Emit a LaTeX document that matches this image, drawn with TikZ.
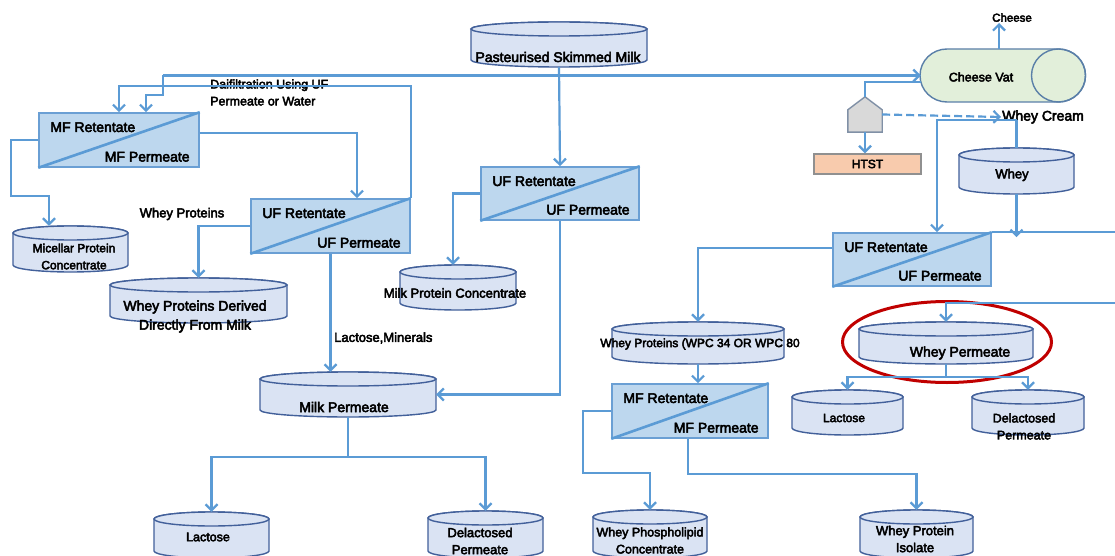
\documentclass[tikz,border=0pt]{standalone}
\usepackage{fontspec}
\newfontfamily\dfont{Liberation Sans}[FakeBold=3.5]
\usetikzlibrary{arrows.meta,shapes.geometric,calc}
\definecolor{lineblue}{HTML}{5B9BD5}
\definecolor{drumfill}{HTML}{DAE3F3}
\definecolor{drumedge}{HTML}{42609A}
\definecolor{boxfill}{HTML}{BDD7EE}
\definecolor{boxedge}{HTML}{6A9FD4}
\definecolor{vatfill}{HTML}{E2EFDA}
\definecolor{vatedge}{HTML}{5A7FA8}
\definecolor{sepfill}{HTML}{D9D9D9}
\definecolor{sepedge}{HTML}{8090A6}
\definecolor{htstfill}{HTML}{F8CBAD}
\definecolor{htstedge}{HTML}{909090}
\definecolor{hlred}{HTML}{C00000}
\tikzset{
  conn/.style={draw=lineblue, line width=2.2pt},
  arr/.style={conn, -{Straight Barb[length=6pt,width=12pt]}},
  dasharr/.style={arr, dash pattern=on 8pt off 4pt},
  drumstyle/.style={draw=drumedge, fill=drumfill, line width=1.4pt},
  membbox/.style={draw=boxedge, fill=boxfill, line width=1.6pt, inner sep=0pt},
  diag/.style={draw=lineblue, line width=2.6pt},
  txt/.style={font=\dfont\fontsize{#1}{17}\selectfont, inner sep=1pt, align=center, text=black},
  txt/.default=13
}
\newcommand{\drum}[5]{%
  \pgfmathsetmacro{\dcx}{(#2+#3)/2}%
  \pgfmathsetmacro{\drx}{(#3-#2)/2}%
  \pgfmathsetmacro{\dyt}{-(#4)-7}%
  \pgfmathsetmacro{\dyb}{-(#5)+7}%
  \filldraw[drumstyle] (#2,\dyt) -- (#2,\dyb) arc[start angle=180,end angle=360,x radius=\drx,y radius=7] -- (#3,\dyt) arc[start angle=0,end angle=180,x radius=\drx,y radius=7] -- cycle;
  \draw[drumstyle] (\dcx,\dyt) ellipse[x radius=\drx, y radius=7];
  \node[inner sep=0pt, minimum width={#3-#2}, minimum height={#5-#4}] (#1) at (\dcx,{-(#4+#5)/2}) {};
}
\newcommand{\memb}[7]{%
  \node[membbox, minimum width={#4-#2}, minimum height={#5-#3}] (#1) at ({(#2+#4)/2},{-(#3+#5)/2}) {};
  \draw[diag] (#1.south west) -- (#1.north east);
  \node[txt=14, anchor=west] (#1r) at ([shift={(11pt,-15pt)}]#1.north west) {#6};
  \node[txt=14, anchor=east] (#1p) at ([shift={(-9pt,11pt)}]#1.south east) {#7};
}
\begin{document}
\begin{tikzpicture}[x=1pt,y=1pt]
\useasboundingbox (0,0) rectangle (1115,-556);
\fill[white] (0,0) rectangle (1115,-556);

% drums
\drum{psm}{471}{647}{22}{67}
\node[txt=14] (psmt) at (558,-57) {Pasteurised Skimmed Milk};
\drum{mic}{13}{128}{226}{272}
\node[txt=12] (mict) at (74,-256.5) {Micellar Protein\\Concentrate};
\drum{wpd}{110}{287}{278}{323}
\node[txt=14, font=\dfont\fontsize{14}{19}\selectfont] (wpdt) at (195,-316.5) {Whey Proteins Derived\\Directly From Milk};
\drum{mpc}{400}{516}{265}{310}
\node[txt=13] (mpct) at (455,-293) {Milk Protein Concentrate};
\drum{mperm}{260}{436}{372}{417}
\node[txt=14] (mpermt) at (344,-407) {Milk Permeate};
\drum{lacL}{154}{269}{512}{558}
\node[txt=12.5] (lacLt) at (208,-537) {Lactose};
\drum{delL}{428}{543}{511}{558}
\node[txt=13] (delLt) at (480,-541) {Delactosed\\Permeate};
\drum{whey}{959}{1074}{148}{194}
\node[txt=13] (wheyt) at (1012,-175) {Whey};
\drum{wpc}{612}{784}{322}{364}
\node[txt=12] (wpct) at (700,-344) {Whey Proteins (WPC 34 OR WPC 80};
\drum{wperm}{859}{1033}{322}{364}
\node[txt=14] (wpermt) at (960,-353) {Whey Permeate};
\drum{lacR}{792}{903}{390}{435}
\node[txt=12] (lacRt) at (844,-418) {Lactose};
\drum{delR}{972}{1084}{390}{435}
\node[txt=12.5] (delRt) at (1024,-426.5) {Delactosed\\Permeate};
\drum{wphos}{593}{707}{510}{558}
\node[txt=12.5] (wphost) at (650,-540.5) {Whey Phospholipid\\Concentrate};
\drum{wpi}{860}{973}{510}{558}
\node[txt=13] (wpit) at (915,-539) {Whey Protein\\Isolate};

% membrane boxes
\memb{mfA}{39}{113}{199}{167}{MF Retentate}{MF Permeate}
\memb{ufB}{251}{199}{410}{253}{UF Retentate}{UF Permeate}
\memb{ufC}{481}{167}{639}{220}{UF Retentate}{UF Permeate}
\memb{ufD}{833}{233}{991}{286}{UF Retentate}{UF Permeate}
\memb{mfE}{612}{384}{768}{438}{MF Retentate}{MF Permeate}

% cheese vat
\filldraw[draw=vatedge, fill=vatfill, line width=1.4pt] (1058.5,-49) -- (947,-49) arc[start angle=90,end angle=270,x radius=27,y radius=26.5] -- (1058.5,-102) arc[start angle=-90,end angle=90,x radius=27,y radius=26.5] -- cycle;
\draw[draw=vatedge, line width=1.4pt] (1058.5,-75.5) ellipse[x radius=27, y radius=26.5];
\node[inner sep=0pt, minimum width=165, minimum height=53] (vat) at (1003.5,-75.5) {};
\node[txt=12.5] (vatt) at (981,-77) {Cheese Vat};
\node[txt=11.5, anchor=south] (cheese) at (1012,-23) {Cheese};

% separator and HTST
\node[inner sep=0pt, minimum width=34, minimum height=35] (sep) at (865,-114.5) {};
\filldraw[draw=sepedge, fill=sepfill, line width=1.4pt] (sep.south west) -- (sep.south east) -- ([yshift=-13pt]sep.north east) -- (sep.north) -- ([yshift=-13pt]sep.north west) -- cycle;
\node[draw=htstedge, fill=htstfill, line width=1.4pt, minimum width=107, minimum height=20, inner sep=0pt, txt=12] (htst) at (867.5,-164) {HTST};
\node[txt=14, anchor=west] (wcream) at (1001,-117) {Whey Cream};

% labels
\node[txt=12.5, anchor=west, align=left] (diaf) at (209,-92.5) {Daifiltration Using UF\\Permeate or Water};
\node[txt=13] (wpl) at (182,-214) {Whey Proteins};
\node[txt=13, anchor=west] (lml) at (333,-338) {Lactose,Minerals};

% highlight
\node[draw=hlred, ellipse, line width=3pt, minimum width=209, minimum height=81, inner sep=0pt] (hl) at (947,-342) {};

% connectors
\coordinate (j1) at (163,-75.5);
\draw[arr] (psm.south) -- (ufC.north);
\draw[arr] (j1) -- (vat.west);
\draw[arr] (j1) -- ++(0,-19.5) -| ([xshift=27pt]mfA.north);
\draw[arr] (ufB.north east) -- ++(0,112) -| (mfA.north);
\draw[arr] ([yshift=7pt]mfA.east) -| ([xshift=26.5pt]ufB.north);
\draw[arr] (mfA.west) -- ++(-27,0) -- ++(0,-56) -| ([xshift=-21.5pt]mic.north);
\draw[arr] (ufB.west) -| (wpd.north);
\draw[arr] (ufB.south) -- (ufB.south |- mperm.north);
\draw[arr] (ufC.west) -| ([xshift=-5pt]mpc.north);
\draw[arr] (ufC.south) |- (mperm.east);
\draw[arr] (mperm.south) -- ++(0,-40) -| (lacL.north);
\draw[arr] (mperm.south) -- ++(0,-40) -| (delL.north);

\draw[arr] ([xshift=-4.5pt]vat.north) -- ([xshift=-4.5pt]vat.north |- cheese.south);
\draw[conn] (sep.north) |- ([yshift=-6.5pt]vat.west);
\draw[dasharr] (sep.east) -- (wcream.west);
\draw[arr] (sep.south) -- (sep.south |- htst.north);
\draw[conn] (whey.north) -- ++(0,28);
\draw[arr] ([yshift=28pt]whey.north) -| ([xshift=25pt]ufD.north);
\draw[arr] (whey.south) -- ++(0,-43);
\draw[arr] (ufD.north east) -- ++(127,0) -- ++(0,-71) -| (wperm.north);
\draw[arr] ([yshift=11.5pt]ufD.west) -| (wpc.north);
\draw[arr] (wpc.south) -- (wpc.south |- mfE.north);
\draw[arr] (mfE.west) -- ++(-28,0) -- ++(0,-62) -| (wphos.north);
\draw[arr] ([xshift=-2pt]mfE.south) -- ++(0,-35) -| (wpi.north);
\draw[arr] (wperm.south) -- ++(0,-13) -| (lacR.north);
\draw[arr] (wperm.south) -- ++(0,-13) -| (delR.north);
\end{tikzpicture}
\end{document}
